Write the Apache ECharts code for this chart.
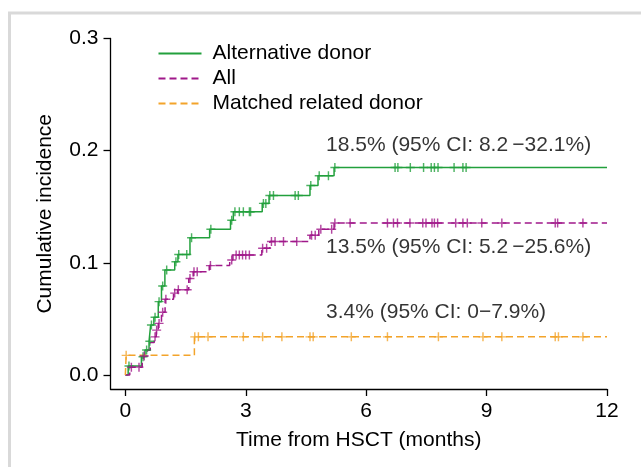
<!DOCTYPE html>
<html>
<head>
<meta charset="utf-8">
<script src="https://cdn.jsdelivr.net/npm/echarts@6/dist/echarts.min.js"></script>
<style>
html,body{margin:0;padding:0;background:#fff;}
#chart{width:641px;height:467px;}
</style>
</head>
<body>
<div id="chart"></div>
<script>
// ---- data ----
const timeTicks = [0, 3, 6, 9, 12];
const incidenceTicks = [0, 0.1, 0.2, 0.3];

const altTime  = [0, 0.07, 0.40, 0.49, 0.59, 0.63, 0.71, 0.82, 0.90, 0.985, 1.23, 1.31, 1.61, 2.10, 2.62, 2.69, 3.41, 3.58, 4.60, 4.80, 5.20, 12];
const altValue = [0, 0.008, 0.0163, 0.0223, 0.030, 0.0446, 0.0514, 0.0654, 0.0793, 0.0936, 0.101, 0.1075, 0.1224, 0.130, 0.138, 0.1456, 0.153, 0.160, 0.169, 0.1776, 0.185, 0.185];
const altCensor = [0.09, 0.44, 0.53, 0.61, 0.65, 0.74, 0.84, 0.93, 1.03, 1.26, 1.33, 1.53, 1.65, 2.13, 2.65, 2.73, 2.84, 2.94, 3.09, 3.12, 3.44, 3.50, 3.60, 3.69, 4.23, 4.31, 4.62, 4.83, 5.06, 5.22, 6.72, 6.79, 7.10, 7.43, 7.62, 7.70, 7.79, 8.19, 8.41, 8.49];

const allTime  = [0, 0.11, 0.42, 0.46, 0.55, 0.62, 0.72, 0.77, 0.82, 0.90, 0.99, 1.20, 1.30, 1.58, 1.69, 2.09, 2.60, 2.68, 3.40, 3.60, 4.60, 4.82, 5.20, 12];
const allValue = [0, 0.007, 0.012, 0.017, 0.022, 0.029, 0.034, 0.040, 0.046, 0.056, 0.0675, 0.073, 0.076, 0.086, 0.092, 0.0975, 0.1025, 0.107, 0.113, 0.119, 0.1245, 0.130, 0.1355, 0.1355];
const allCensor = [0.15, 0.34, 0.47, 0.74, 0.78, 0.84, 0.93, 1.01, 1.23, 1.32, 1.54, 1.61, 1.71, 1.79, 2.12, 2.65, 2.76, 2.84, 2.92, 3.00, 3.09, 3.42, 3.52, 3.64, 3.73, 3.94, 4.27, 4.64, 4.73, 4.87, 5.14, 5.22, 5.60, 6.53, 6.68, 6.78, 7.09, 7.41, 7.49, 7.64, 7.70, 7.78, 8.23, 8.41, 8.52, 8.88, 9.38, 10.71, 10.77, 11.40];

const mrdTime  = [0, 0.02, 1.72, 12];
const mrdValue = [0, 0.0175, 0.034, 0.034];
const mrdCensor = [0.02, 1.73, 1.82, 2.06, 2.94, 3.42, 3.90, 4.60, 4.68, 5.63, 6.53, 7.80, 8.91, 9.38, 10.71, 10.79, 11.40];

const seriesNames = ['Alternative donor', 'All', 'Matched related donor'];
const annotations = [
  {text: '18.5% (95% CI: 8.2\u2009\u221232.1%)', at: [5.0, 0.205]},
  {text: '13.5% (95% CI: 5.2\u2009\u221225.6%)', at: [5.0, 0.114]},
  {text: '3.4% (95% CI: 0\u22127.9%)', at: [5.0, 0.056]}
];

// ---- helpers ----
function pairs(t, v) { return t.map((x, i) => [x, v[i]]); }
function valueAt(t, v, x) {
  let y = v[0];
  for (let i = 0; i < t.length; i++) { if (t[i] <= x) y = v[i]; }
  return y;
}
function censorPts(times, t, v) { return times.map(x => [x, valueAt(t, v, x)]); }

const colors = ['#22a03c', '#a0188a', '#f3a42b'];
const FONT = 'Liberation Sans, Arial, Helvetica, sans-serif';
const FS = 21;
const plus = 'path://M-0.8,-5H0.8V-0.8H5V0.8H0.8V5H-0.8V0.8H-5V-0.8H-0.8Z';
const dash = [7, 4];

const chart = echarts.init(document.getElementById('chart'), null, {renderer: 'canvas'});

function lineSeries(name, t, v, color, type) {
  return {
    name: name, type: 'line', step: 'end', data: pairs(t, v),
    symbol: 'none', showSymbol: false, animation: false,
    lineStyle: {color: color, width: 1.5, type: type},
    itemStyle: {color: color}, z: 2
  };
}
function censorSeries(name, pts, color) {
  return {
    name: name, type: 'scatter', data: pts, symbol: plus, symbolSize: 9,
    itemStyle: {color: color}, animation: false, z: 3, silent: true
  };
}

const option = {
  backgroundColor: '#ffffff',
  animation: false,
  textStyle: {fontFamily: FONT},
  grid: {left: 110.5, right: 34, top: 38.5, bottom: 78},
  legend: {
    data: seriesNames,
    orient: 'vertical',
    left: 157.5, top: 43, padding: 0,
    itemWidth: 43, itemHeight: 20, itemGap: 4,
    itemStyle: {opacity: 0},
    textStyle: {fontSize: FS, lineHeight: 20, color: '#000', fontFamily: FONT, padding: [0, 0, 0, 6]},
    selectedMode: false
  },
  xAxis: {
    type: 'value', min: -0.37, max: 12,
    name: 'Time from HSCT (months)', nameLocation: 'middle', nameGap: 41,
    nameTextStyle: {fontSize: FS, color: '#000', fontFamily: FONT},
    axisLine: {show: true, onZero: false, lineStyle: {color: '#000', width: 1.3}},
    axisTick: {show: true, length: 7, customValues: timeTicks, lineStyle: {color: '#000', width: 1.3}},
    axisLabel: {show: true, customValues: timeTicks, fontSize: FS, color: '#000', margin: 12, fontFamily: FONT},
    splitLine: {show: false}
  },
  yAxis: {
    type: 'value', min: -0.0125, max: 0.3,
    name: 'Cumulative incidence', nameLocation: 'middle', nameGap: 55,
    nameTextStyle: {fontSize: FS, color: '#000', fontFamily: FONT},
    axisLine: {show: true, onZero: false, lineStyle: {color: '#000', width: 1.3}},
    axisTick: {show: true, length: 7, customValues: incidenceTicks, lineStyle: {color: '#000', width: 1.3}},
    axisLabel: {show: true, customValues: incidenceTicks, fontSize: FS, color: '#000', margin: 12, fontFamily: FONT,
      formatter: v => v.toFixed(1)},
    splitLine: {show: false}
  },
  graphic: [
    {type: 'line', shape: {x1: 8, y1: 13, x2: 641, y2: 13}, style: {stroke: '#d9d9d9', lineWidth: 3}, silent: true},
    {type: 'line', shape: {x1: 9.5, y1: 12, x2: 9.5, y2: 467}, style: {stroke: '#d9d9d9', lineWidth: 3}, silent: true}
  ],
  series: [
    lineSeries(seriesNames[0], altTime, altValue, colors[0], 'solid'),
    lineSeries(seriesNames[1], allTime, allValue, colors[1], dash),
    lineSeries(seriesNames[2], mrdTime, mrdValue, colors[2], dash),
    censorSeries('censor-alt', censorPts(altCensor, altTime, altValue), colors[0]),
    censorSeries('censor-all', censorPts(allCensor, allTime, allValue), colors[1]),
    censorSeries('censor-mrd', censorPts(mrdCensor, mrdTime, mrdValue), colors[2]),
    {
      name: 'annotations', type: 'scatter', symbolSize: 0, silent: true,
      data: annotations.map(a => ({value: a.at, name: a.text})),
      label: {show: true, position: 'right', distance: 0, formatter: '{b}', fontSize: FS, color: '#000', fontFamily: FONT},
      z: 4
    }
  ]
};
chart.setOption(option);
</script>
</body>
</html>
